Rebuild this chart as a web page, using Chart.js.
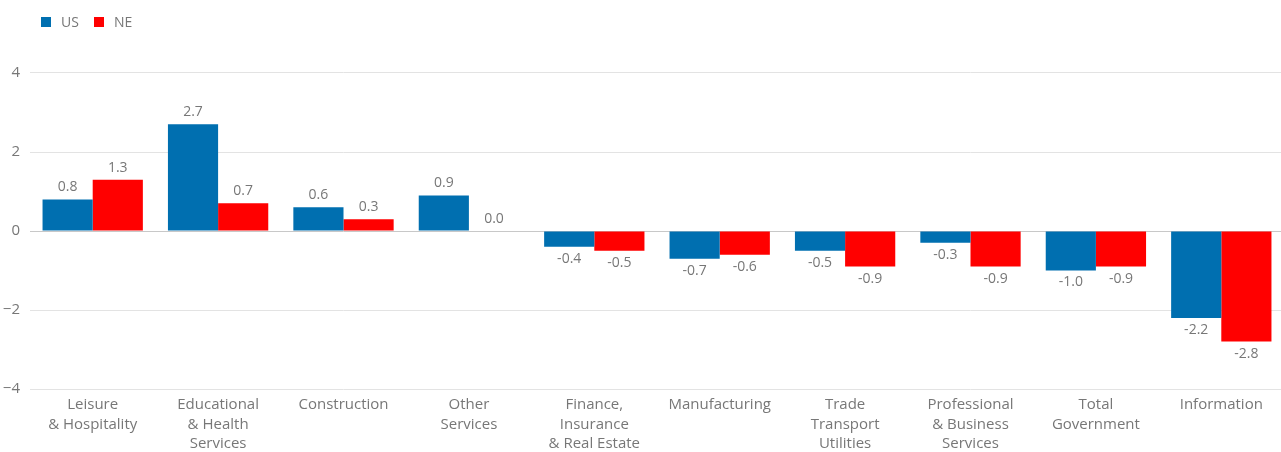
<!DOCTYPE html>
<html>
<head>
<meta charset="utf-8">
<script src="https://cdn.jsdelivr.net/npm/chart.js@4"></script>
<style>
    html, body { margin: 0; padding: 0; background: #fff; }
    #wrap { position: relative; width: 1281px; height: 452px; overflow: hidden; font-family: "Open Sans", sans-serif; }
    #inner { position: absolute; left: 0; top: -40px; width: 1284px; height: 492px; }
    #legend { position: absolute; left: 41px; top: 12px; display: flex; font-size: 14px; color: #777; }
    #legend span.item { display: flex; align-items: center; margin-right: 15px; }
    #legend span.box { display: inline-block; width: 10px; height: 10px; margin-right: 10px; }
</style>
</head>
<body>
<div id="wrap">
    <div id="inner"><canvas id="jobsChart"></canvas></div>
    <div id="legend"></div>
</div>
<script>
var categories = [
    ["Leisure", "& Hospitality"],
    ["Educational", "& Health", "Services"],
    ["Construction"],
    ["Other", "Services"],
    ["Finance,", "Insurance", "& Real Estate"],
    ["Manufacturing"],
    ["Trade", "Transport", "Utilities"],
    ["Professional", "& Business", "Services"],
    ["Total", "Government"],
    ["Information"]
];
var usValues = [0.8, 2.7, 0.6, 0.9, -0.4, -0.7, -0.5, -0.3, -1.0, -2.2];
var neValues = [1.3, 0.7, 0.3, 0.0, -0.5, -0.6, -0.9, -0.9, -0.9, -2.8];
var seriesNames = ["US", "NE"];
var seriesColors = ["#006fb0", "#ff0000"];

// value labels drawn at the end of each bar
var barValues = {
    id: "barValues",
    afterDatasetsDraw: function (chart) {
        var ctx = chart.ctx;
        ctx.save();
        ctx.font = "14px 'Open Sans'";
        ctx.fillStyle = "#777";
        ctx.textAlign = "center";
        ctx.textBaseline = "middle";
        chart.data.datasets.forEach(function (ds, i) {
            var meta = chart.getDatasetMeta(i);
            meta.data.forEach(function (bar, j) {
                var v = ds.data[j];
                var y = v >= 0 ? bar.y - 12 : bar.y + 12;
                ctx.fillText(v.toFixed(1), bar.x, y);
            });
        });
        ctx.restore();
    }
};

var legend = document.getElementById("legend");
seriesNames.forEach(function (name, i) {
    var item = document.createElement("span");
    item.className = "item";
    item.innerHTML = '<span class="box" style="background:' + seriesColors[i] + '"></span>' + name;
    legend.appendChild(item);
});

var ctx = document.getElementById("jobsChart").getContext("2d");
new Chart(ctx, {
    type: "bar",
    data: {
        labels: categories,
        datasets: [{
            label: seriesNames[0],
            data: usValues,
            backgroundColor: seriesColors[0],
            categoryPercentage: 0.8,
            barPercentage: 1.0
        }, {
            label: seriesNames[1],
            data: neValues,
            backgroundColor: seriesColors[1],
            categoryPercentage: 0.8,
            barPercentage: 1.0
        }]
    },
    plugins: [barValues],
    options: {
        responsive: true,
        maintainAspectRatio: false,
        animation: false,
        layout: { padding: { top: 34, right: 0, left: 0, bottom: 0 } },
        plugins: {
            legend: { display: false },
            tooltip: { enabled: false }
        },
        scales: {
            x: {
                grid: { display: false, drawTicks: false },
                border: { display: false },
                ticks: {
                    color: "#777",
                    font: { family: "Open Sans", size: 15, lineHeight: 1.3 },
                    padding: 6,
                    maxRotation: 0,
                    autoSkip: false
                },
                afterFit: function (scale) { scale.height = 63; }
            },
            y: {
                min: -4,
                max: 6,
                grid: {
                    color: function (c) { return c.tick.value === 0 ? "#c8c8c8" : "#e3e3e3"; },
                    drawTicks: false
                },
                border: { display: false },
                ticks: {
                    stepSize: 2,
                    color: "#777",
                    font: { family: "Open Sans", size: 15 },
                    padding: 10,
                    callback: function (value) { return String(value).replace("-", "\u2212"); }
                },
                afterFit: function (scale) { scale.width = 30; }
            }
        }
    }
});
</script>
</body>
</html>
